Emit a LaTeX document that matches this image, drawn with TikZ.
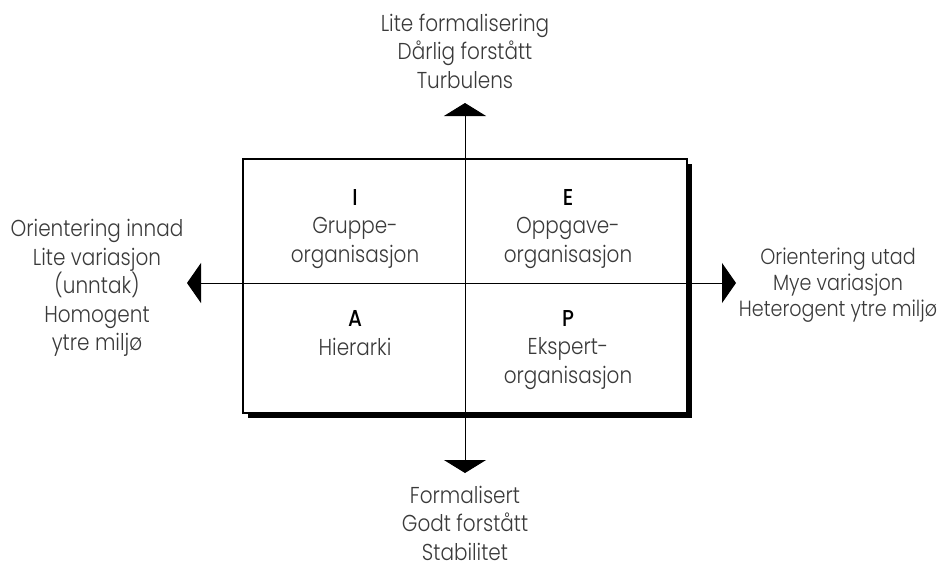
\documentclass[tikz,border=0pt]{standalone}
\usepackage{fontspec}
\setmainfont{Poppins}[UprightFont=* Light, BoldFont=* Medium, FakeStretch=0.87]
\usetikzlibrary{arrows.meta}
\definecolor{txt}{HTML}{3A3A3A}
\tikzset{
  lbl/.style={align=center, text=txt, inner sep=0pt, font=\fontsize{23}{28.5}\selectfont},
  lblr/.style={lbl, font=\fontsize{22}{26}\selectfont},
  axis/.style={line width=1pt, draw=black},
  vhead/.style={{Triangle[width=42pt,length=13pt]}-{Triangle[width=42pt,length=13pt]}},
  hhead/.style={{Triangle[width=40pt,length=14pt]}-{Triangle[width=40pt,length=14pt]}},
  quad/.style={minimum width=444pt, minimum height=254pt, inner sep=0pt},
}
\newcommand{\qletter}[1]{{\color{black}\bfseries #1}}
\begin{document}
\begin{tikzpicture}[x=1pt,y=-1pt]
\useasboundingbox (0,0) rectangle (946,568);
% shadow and box
\node[quad, fill=black] (shadow) at (470,291) {};
\node[quad, fill=white, draw=black, line width=1.1pt] (box) at (465,286) {};
% axes
\coordinate (top) at (465,103);
\coordinate (bot) at (465,473);
\coordinate (lft) at (187,283);
\coordinate (rgt) at (736,283);
\draw[axis, vhead] (top) -- (bot);
\draw[axis, hhead] (lft) -- (rgt);
% quadrant labels
\node[lbl] (qI) at (355,229) {\qletter{I}\\Gruppe-\\organisasjon};
\node[lbl] (qE) at (568,229) {\qletter{E}\\Oppgave-\\organisasjon};
\node[lbl] (qA) at (355,333) {\qletter{A}\\Hierarki};
\node[lbl] (qP) at (568,350) {\qletter{P}\\Ekspert-\\organisasjon};
% axis labels
\node[lbl] (tTop) at (465,51) {Lite formalisering\\Dårlig forstått\\Turbulens};
\node[lbl] (tBot) at (465,523) {Formalisert\\Godt forstått\\Stabilitet};
\node[lbl] (tLft) at (97,288) {Orientering innad\\Lite variasjon\\(unntak)\\Homogent\\ytre miljø};
\node[lblr] (tRgt) at (838,285) {Orientering utad\\Mye variasjon\\Heterogent ytre miljø};
\end{tikzpicture}
\end{document}
